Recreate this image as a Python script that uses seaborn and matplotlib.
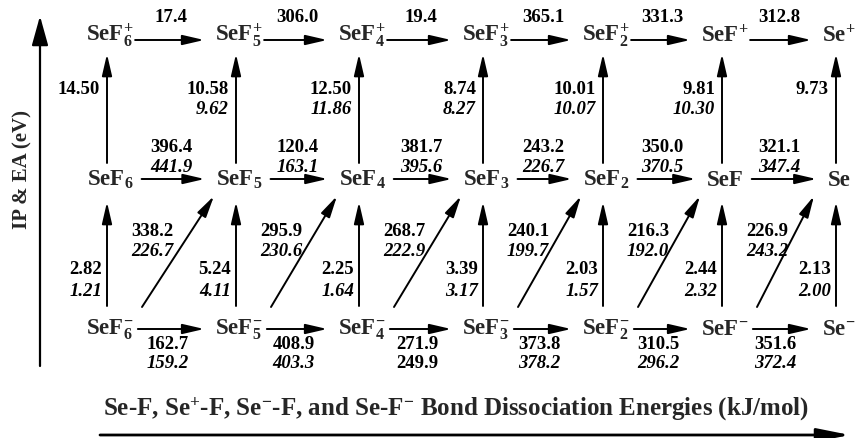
import seaborn as sns
import matplotlib.pyplot as plt

# number of F atoms on Se for each column (SeF6 ... Se)
n_fluorine = [6, 5, 4, 3, 2, 1, 0]

# bond dissociation energies (kJ/mol): bold value and italic value
cation_bde = [17.4, 306.0, 19.4, 365.1, 331.3, 312.8]
neutral_bde = [396.4, 120.4, 381.7, 243.2, 350.0, 321.1]
neutral_bde_it = [441.9, 163.1, 395.6, 226.7, 370.5, 347.4]
anion_bde = [162.7, 408.9, 271.9, 373.8, 310.5, 351.6]
anion_bde_it = [159.2, 403.3, 249.9, 378.2, 296.2, 372.4]
cross_bde = [338.2, 295.9, 268.7, 240.1, 216.3, 226.9]
cross_bde_it = [226.7, 230.6, 222.9, 199.7, 192.0, 243.2]

# ionization potentials and electron affinities (eV)
ip = [14.50, 10.58, 12.50, 8.74, 10.01, 9.81, 9.73]
ip_it = [None, 9.62, 11.86, 8.27, 10.07, 10.30, None]
ea = [2.82, 5.24, 2.25, 3.39, 2.03, 2.44, 2.13]
ea_it = [1.21, 4.11, 1.64, 3.17, 1.57, 2.32, 2.00]

# layout (pixel-like coordinates)
col_x = [107, 236, 359, 483, 603, 722, 836]
base_y = {"+": 42, "": 186, "-": 335}
arrow_y = {"+": 41, "": 180, "-": 330}
shrink = {"+": (1, 8), "": (6, 8), "-": (3, 8)}
head = "-|>,head_length=1.3,head_width=0.3"

sns.set_theme(style="white")
plt.rcParams["font.family"] = ["Liberation Serif", "DejaVu Serif"]
plt.rcParams["font.weight"] = "bold"
plt.rcParams["mathtext.fontset"] = "custom"
plt.rcParams["mathtext.rm"] = "Liberation Serif:bold"
plt.rcParams["mathtext.it"] = "Liberation Serif:bold:italic"
plt.rcParams["mathtext.bf"] = "Liberation Serif:bold"
plt.rcParams["mathtext.default"] = "rm"

fig = plt.figure(figsize=(8.59, 4.39), dpi=100)
ax = fig.add_axes([0, 0, 1, 1])
ax.set_xlim(0, 859)
ax.set_ylim(439, 0)
ax.axis("off")


def species(n, charge):
    base = "SeF" if n > 0 else "Se"
    sub = str(n) if n > 1 else ""
    if sub and charge:
        return base + "$_{%s}^{%s}$" % (sub, charge)
    if sub:
        return base + "$_{%s}$" % sub
    if charge:
        return base + "$^{%s}$" % charge
    return base


def arrow(xy, xytext, **kw):
    props = dict(arrowstyle=head, color="black", lw=1.4,
                 shrinkA=0, shrinkB=0, mutation_scale=10)
    props.update(kw)
    ax.annotate("", xy=xy, xytext=xytext, arrowprops=props)


num_kw = dict(fontsize=13.5, fontweight="bold", color="black")

# species rows and horizontal arrows
for charge in ["+", "", "-"]:
    texts = []
    for i, n in enumerate(n_fluorine):
        t = ax.text(col_x[i] + 3, base_y[charge], species(n, charge),
                    ha="center", va="baseline", fontsize=16.5, fontweight="bold")
        texts.append(t)
    y = arrow_y[charge]
    for i in range(len(texts) - 1):
        a, b = shrink[charge]
        ax.annotate("", xy=(0, y), xycoords=(texts[i + 1], "data"),
                    xytext=(1, y), textcoords=(texts[i], "data"),
                    arrowprops=dict(arrowstyle=head, color="black", lw=1.4,
                                    shrinkA=a, shrinkB=b, mutation_scale=10))

# horizontal bond energies
for i in range(len(cation_bde)):
    mid = (col_x[i] + col_x[i + 1]) / 2
    ax.text(mid, 18, f"{cation_bde[i]:.1f}", ha="center", va="center", **num_kw)
    ax.text(mid, 148, f"{neutral_bde[i]:.1f}", ha="center", va="center", **num_kw)
    ax.text(mid, 168, f"{neutral_bde_it[i]:.1f}", ha="center", va="center",
            style="italic", **num_kw)
    ax.text(mid - 4, 345, f"{anion_bde[i]:.1f}", ha="center", va="center", **num_kw)
    ax.text(mid - 4, 364, f"{anion_bde_it[i]:.1f}", ha="center", va="center",
            style="normal" if i == 2 else "italic", **num_kw)

# vertical IP / EA arrows
for i, x in enumerate(col_x):
    arrow((x, 55), (x, 164))
    arrow((x, 203), (x, 307))
    ax.text(x - 7, 90, f"{ip[i]:.2f}", ha="right", va="center", **num_kw)
    if ip_it[i] is not None:
        ax.text(x - 7, 110, f"{ip_it[i]:.2f}", ha="right", va="center",
                style="italic", **num_kw)
    ax.text(x - 5, 270, f"{ea[i]:.2f}", ha="right", va="center", **num_kw)
    ax.text(x - 5, 292, f"{ea_it[i]:.2f}", ha="right", va="center",
            style="italic", **num_kw)

# diagonal anion -> neutral arrows
for i in range(len(cross_bde)):
    arrow((col_x[i + 1] - 22, 197), (col_x[i] + 35, 308))
    ax.text(col_x[i] + 45, 232, f"{cross_bde[i]:.1f}", ha="center", va="center", **num_kw)
    ax.text(col_x[i] + 45, 252, f"{cross_bde_it[i]:.1f}", ha="center", va="center",
            style="italic", **num_kw)

# axis arrows and labels
arrow((40, 17), (40, 367), lw=1.6,
      arrowstyle="-|>,head_length=1.8,head_width=0.5")
ax.text(22, 170, "IP & EA (eV)", rotation=90, ha="center", va="center",
        fontsize=15, fontweight="bold")
arrow((850, 436), (100, 436), lw=2.0,
      arrowstyle="-|>,head_length=2.0,head_width=0.4")
ax.text(456, 416, "Se-F, Se$^{+}$-F, Se$^{-}$-F, and Se-F$^{-}$ Bond Dissociation Energies (kJ/mol)",
        ha="center", va="baseline", fontsize=18, fontweight="bold")

plt.savefig("out.png", dpi=100)
